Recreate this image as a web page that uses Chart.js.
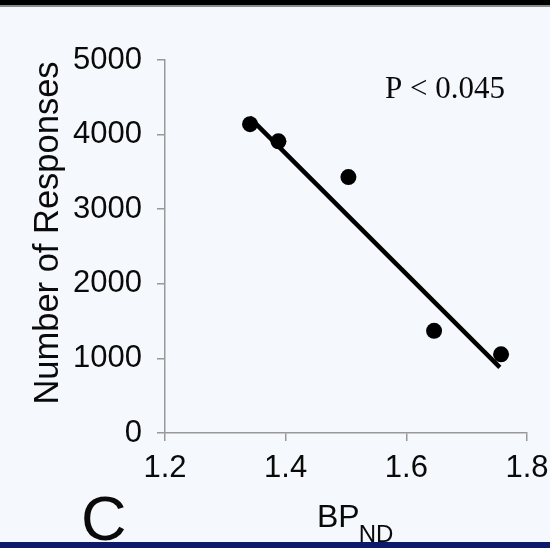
<!DOCTYPE html>
<html>
<head>
<meta charset="utf-8">
<script src="https://cdn.jsdelivr.net/npm/chart.js@4.4.1/dist/chart.umd.min.js"></script>
<style>
  html, body { margin: 0; padding: 0; background: #f5f8fc; overflow: hidden; }
  #wrap { position: relative; width: 550px; height: 548px; }
  #topBand { position: absolute; left: 0; top: 0; width: 550px; height: 5px; background: #000; border-bottom: 2px solid #8a8a8a; }
  #bottomBand { position: absolute; left: 0; bottom: 0; width: 550px; height: 6px; background: #0c1a6a; }
</style>
</head>
<body>
<div id="wrap">
  <canvas id="chart" width="550" height="548"></canvas>
  <div id="topBand"></div>
  <div id="bottomBand"></div>
</div>
<script>
// scatter data: BPND vs number of responses
const bpValues = [1.341, 1.388, 1.504, 1.646, 1.757];
const responses = [4140, 3910, 3430, 1370, 1055];

// regression line end points
const fitX = [1.34, 1.755];
const fitY = [4230, 880];

const xMin = 1.2, xMax = 1.8, xStep = 0.2;
const yMin = 0, yMax = 5000, yStep = 1000;

const pLabel = 'P < 0.045';
const panelLabel = 'C';

const sansFont = '"Liberation Sans", Arial, Helvetica, sans-serif';
const serifFont = '"Liberation Serif", "Times New Roman", serif';
const textColor = '#0a0a0a';

// titles, subscript and annotation text
const labelsPlugin = {
    id: 'labels',
    afterDraw(chart) {
        const ctx = chart.ctx;
        ctx.save();
        ctx.fillStyle = textColor;

        // y axis title
        ctx.save();
        ctx.translate(58, 233);
        ctx.rotate(-Math.PI / 2);
        ctx.font = '34.5px ' + sansFont;
        ctx.textAlign = 'center';
        ctx.textBaseline = 'alphabetic';
        ctx.fillText('Number of Responses', 0, 0);
        ctx.restore();

        // x axis title with subscript
        ctx.textAlign = 'left';
        ctx.textBaseline = 'alphabetic';
        ctx.font = '32px ' + sansFont;
        ctx.fillText('BP', 317, 527);
        const bpW = ctx.measureText('BP').width;
        ctx.font = '24px ' + sansFont;
        ctx.fillText('ND', 316 + bpW, 542);

        // panel letter
        ctx.font = '63px ' + sansFont;
        ctx.fillText(panelLabel, 81, 540);

        // p value
        ctx.font = '31px ' + serifFont;
        ctx.fillText(pLabel, 385, 98);
        ctx.restore();
    }
};

const ctx = document.getElementById('chart').getContext('2d');
const chart = new Chart(ctx, {
    type: 'scatter',
    data: {
        datasets: [{
            label: 'Responses',
            data: bpValues.map((x, i) => ({ x: x, y: responses[i] })),
            backgroundColor: '#000',
            borderColor: '#000',
            pointRadius: 8,
            pointBorderWidth: 0
        }, {
            label: 'Fit',
            data: fitX.map((x, i) => ({ x: x, y: fitY[i] })),
            showLine: true,
            borderColor: '#000',
            borderWidth: 4.5,
            pointRadius: 0
        }]
    },
    options: {
        responsive: false,
        animation: false,
        layout: {
            padding: { left: 0, right: 23, top: 60, bottom: 0 }
        },
        plugins: {
            legend: { display: false },
            tooltip: { enabled: false }
        },
        scales: {
            x: {
                type: 'linear',
                min: xMin,
                max: xMax,
                afterFit: (scale) => {
                    scale.height = 115;
                    scale.paddingLeft = 0;
                    scale.paddingRight = 0;
                },
                border: { color: '#999', width: 1.5 },
                grid: { drawOnChartArea: false, drawTicks: true, tickLength: 8, color: '#999', lineWidth: 1.5 },
                ticks: {
                    stepSize: xStep,
                    padding: 9,
                    color: textColor,
                    font: { family: sansFont, size: 31 },
                    maxRotation: 0,
                    callback: (v) => Number(v).toFixed(1)
                }
            },
            y: {
                min: yMin,
                max: yMax,
                afterFit: (scale) => {
                    scale.width = 165;
                    scale.paddingTop = 0;
                    scale.paddingBottom = 0;
                },
                border: { color: '#999', width: 1.5 },
                grid: { drawOnChartArea: false, drawTicks: true, tickLength: 8, color: '#999', lineWidth: 1.5 },
                ticks: {
                    stepSize: yStep,
                    padding: 15,
                    color: textColor,
                    font: { family: sansFont, size: 31 },
                    callback: (v) => String(v)
                }
            }
        }
    },
    plugins: [labelsPlugin]
});
</script>
</body>
</html>
